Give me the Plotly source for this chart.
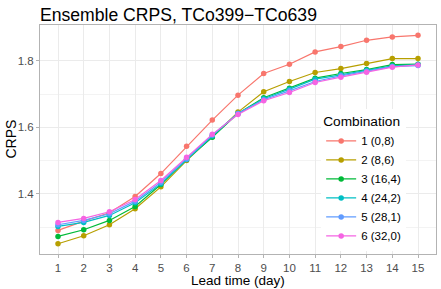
import plotly.graph_objects as go

days = list(range(1, 16))
series_names = ["1 (0,8)", "2 (8,6)", "3 (16,4)", "4 (24,2)", "5 (28,1)", "6 (32,0)"]
colors = ["#F8766D", "#B79F00", "#00BA38", "#00BFC4", "#619CFF", "#F564E3"]

crps_1 = [1.290, 1.318, 1.343, 1.392, 1.461, 1.543, 1.622, 1.697, 1.762, 1.790, 1.827, 1.843, 1.862, 1.872, 1.877]
crps_2 = [1.250, 1.274, 1.307, 1.355, 1.421, 1.500, 1.572, 1.646, 1.707, 1.738, 1.765, 1.777, 1.792, 1.807, 1.807]
crps_3 = [1.272, 1.292, 1.320, 1.362, 1.428, 1.503, 1.570, 1.642, 1.689, 1.718, 1.748, 1.762, 1.774, 1.789, 1.790]
crps_4 = [1.302, 1.314, 1.335, 1.373, 1.430, 1.503, 1.574, 1.642, 1.686, 1.715, 1.745, 1.758, 1.772, 1.785, 1.789]
crps_5 = [1.307, 1.320, 1.340, 1.378, 1.435, 1.505, 1.577, 1.642, 1.683, 1.710, 1.738, 1.755, 1.769, 1.783, 1.786]
crps_6 = [1.314, 1.326, 1.346, 1.383, 1.440, 1.510, 1.579, 1.639, 1.680, 1.705, 1.735, 1.751, 1.766, 1.781, 1.788]

all_series = [crps_1, crps_2, crps_3, crps_4, crps_5, crps_6]

FONT = "Liberation Sans, Arial, sans-serif"

fig = go.Figure()
for name, col, vals in zip(series_names, colors, all_series):
    fig.add_trace(go.Scatter(
        x=days, y=vals, name=name, mode="lines+markers",
        line=dict(color=col, width=1.2),
        marker=dict(color=col, size=5.5),
    ))

fig.update_layout(
    width=441, height=289,
    margin=dict(l=40, r=5, t=25, b=35, autoexpand=False),
    paper_bgcolor="white", plot_bgcolor="white",
    font=dict(family=FONT, size=11.5, color="#4D4D4D"),
    title=dict(text="Ensemble CRPS, TCo399\u2212TCo639", x=0, xref="paper", xanchor="left",
               y=1 - 21 / 289, yref="container", yanchor="bottom", automargin=False,
               font=dict(family=FONT, size=17.6, color="black")),
    showlegend=True,
    legend=dict(
        title=dict(text="Combination", font=dict(family=FONT, size=13.7, color="black")),
        font=dict(family=FONT, size=11.5, color="black"),
        x=0.71, xanchor="left", y=0.015, yanchor="bottom",
        bgcolor="white", borderwidth=0, itemwidth=30,
        tracegroupgap=0,
    ),
    annotations=[
        dict(text="Lead time (day)", xref="paper", yref="paper", x=0.5, y=-(280 - 254) / 229,
             xanchor="center", yanchor="middle", showarrow=False,
             font=dict(family=FONT, size=13.5, color="black")),
        dict(text="CRPS", xref="paper", yref="paper", x=-(40 - 10) / 396, y=0.5,
             xanchor="center", yanchor="middle", showarrow=False, textangle=-90,
             font=dict(family=FONT, size=14, color="black")),
    ],
)

fig.update_xaxes(
    range=[0.3, 15.7], tickmode="array", tickvals=days, ticktext=[str(d) for d in days],
    automargin=False,
    showgrid=True, gridcolor="#EBEBEB", gridwidth=1,
    showline=True, linecolor="#B3B3B3", linewidth=1, mirror=True,
    ticks="outside", ticklen=3, tickcolor="#B3B3B3", tickwidth=1,
    tickfont=dict(family=FONT, size=11.5, color="#4D4D4D"),
    zeroline=False,
)
fig.update_yaxes(
    range=[1.219, 1.908], tickmode="array", tickvals=[1.4, 1.6, 1.8], ticktext=["1.4", "1.6", "1.8"],
    automargin=False,
    showgrid=True, gridcolor="#EBEBEB", gridwidth=1,
    minor=dict(tickmode="array", tickvals=[1.3, 1.5, 1.7], showgrid=True, gridcolor="#F3F3F3", gridwidth=0.8, ticks=""),
    showline=True, linecolor="#B3B3B3", linewidth=1, mirror=True,
    ticks="outside", ticklen=3, tickcolor="#B3B3B3", tickwidth=1,
    tickfont=dict(family=FONT, size=11.5, color="#4D4D4D"),
    zeroline=False,
)

fig.write_html("out.html", config={"displayModeBar": False},
               post_script="document.body.style.margin='0';document.body.style.overflow='hidden';")
